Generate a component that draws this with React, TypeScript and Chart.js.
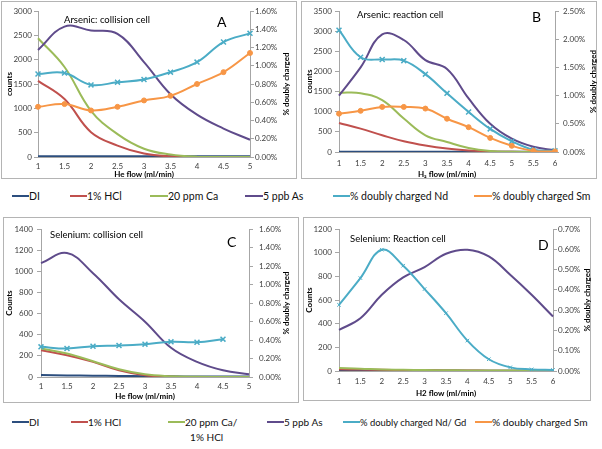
import React, { useEffect, useRef } from 'react';
import { Chart, registerables } from 'chart.js';
Chart.register(...registerables);

const FONT = 'Lato, "Liberation Sans", sans-serif';
const AXIS = '#a6a6a6';
const TICK = '#404040';

const C_DI = '#2C4E7E';
const C_HCL = '#C0504D';
const C_CA = '#9BBB59';
const C_AS = '#5F4B8B';
const C_ND = '#4BACC6';
const C_SM = '#F79646';

// ---------- Panel A: Arsenic collision cell ----------
const flowA = ['1', '1.5', '2', '2.5', '3', '3.5', '4', '4.5', '5'];
const diA = [15, 15, 15, 15, 15, 15, 15, 15, 15];
const hclA = [1565, 1190, 510, 235, 70, 12, 0, 0, 0];
const caA = [2440, 1850, 950, 470, 170, 50, 5, 0, 0];
const asA = [2200, 2680, 2600, 2530, 1950, 1290, 870, 585, 355];
const ndA = [0.91, 0.92, 0.79, 0.82, 0.85, 0.93, 1.04, 1.26, 1.355];
const smA = [0.55, 0.58, 0.51, 0.55, 0.62, 0.67, 0.8, 0.93, 1.14];

// ---------- Panel B: Arsenic reaction cell ----------
const flowB = ['1', '1.5', '2', '2.5', '3', '3.5', '4', '4.5', '5', '5.5', '6'];
const diB = [5, 5, 5, 5, 5, 5, 5, 5, 5, 5, 5];
const hclB = [720, 580, 415, 265, 160, 85, 40, 15, 5, 0, 0];
const caB = [1470, 1460, 1290, 830, 415, 250, 100, 25, 5, 0, 0];
const asB = [1400, 2100, 2920, 2780, 2280, 2060, 1330, 700, 330, 130, 40];
const ndB = [2.16, 1.68, 1.64, 1.62, 1.38, 1.04, 0.71, 0.41, 0.19, 0.04, 0.02];
const smB = [0.68, 0.73, 0.8, 0.8, 0.77, 0.59, 0.44, 0.25, 0.11, 0.02, 0.01];

// ---------- Panel C: Selenium collision cell ----------
const flowC = ['1', '1.5', '2', '2.5', '3', '3.5', '4', '4.5', '5'];
const diC = [18, 15, 12, 10, 8, 6, 5, 5, 5];
const hclC = [253, 206, 143, 63, 16, 3, 0, 0, 0];
const caC = [269, 222, 149, 73, 25, 8, 2, 0, 0];
const asC = [1077, 1172, 982, 735, 523, 276, 143, 63, 25];
const ndC = [0.326, 0.308, 0.333, 0.34, 0.355, 0.38, 0.376, 0.409, null];

// ---------- Panel D: Selenium reaction cell ----------
const flowD = ['1', '1.5', '2', '2.5', '3', '3.5', '4', '4.5', '5', '5.5', '6'];
const diD = [8, 6, 5, 5, 4, 4, 3, 3, 3, 3, 3];
const hclD = [15, 12, 10, 8, 6, 5, 4, 3, 3, 3, 3];
const caD = [25, 20, 12, 10, 8, 6, 5, 5, 5, 5, 5];
const asD = [347, 446, 644, 791, 878, 991, 1025, 968, 813, 644, 460];
const ndD = [0.326, 0.458, 0.598, 0.519, 0.404, 0.285, 0.15, 0.058, 0.018, 0.008, 0.005];

// legend labels
const legendTop = ['DI', '1% HCl', '20 ppm Ca', '5 ppb As', '% doubly charged Nd', '% doubly charged Sm'];
const legendBottom = ['DI', '1% HCl', '20 ppm Ca/\n  1% HCl', '5 ppb As', '% doubly charged Nd/ Gd', '% doubly charged Sm'];
const legendColors = [C_DI, C_HCL, C_CA, C_AS, C_ND, C_SM];

type Series = { label: string; data: (number | null)[]; color: string; axis: 'y' | 'y1'; marker?: 'x' | 'dot' | 'xs' };
type TextItem = { text: string; x: number; y: number; font: string; align?: CanvasTextAlign; rotate?: number };
type PanelCfg = {
  x: number; y: number; w: number; h: number;
  labels: string[];
  series: Series[];
  yMax: number; yStep: number; y1Max: number; y1Step: number;
  leftW: number; rightW: number; padTop: number; bottomH: number;
  leftPad: number; rightPad: number; xPad: number;
  leftTitle: string; leftTitlePad: number; xTitle: string; xTitlePad: number;
  texts: TextItem[];
};

const textPlugin = {
  id: 'panelTexts',
  afterDraw(chart: any, _args: any, opts: any) {
    const ctx = chart.ctx;
    for (const t of opts.items as TextItem[]) {
      ctx.save();
      ctx.font = t.font;
      ctx.fillStyle = '#000';
      ctx.textAlign = t.align || 'left';
      ctx.textBaseline = 'middle';
      ctx.translate(t.x - opts.ox, t.y - opts.oy);
      if (t.rotate) ctx.rotate(t.rotate);
      ctx.fillText(t.text, 0, 0);
      ctx.restore();
    }
  },
};

function buildConfig(c: PanelCfg): any {
  const n = c.series.length;
  const datasets = c.series.map((s, i) => {
    const base: any = {
      label: s.label,
      data: s.data,
      borderColor: s.color,
      backgroundColor: s.color,
      borderWidth: 2,
      yAxisID: s.axis,
      tension: 0.4,
      fill: false,
      order: n - i,
      pointRadius: 0,
    };
    if (s.marker === 'x') {
      base.pointStyle = 'crossRot';
      base.pointRadius = 3.5;
      base.pointBorderWidth = 1.5;
    } else if (s.marker === 'xs') {
      base.pointStyle = 'crossRot';
      base.pointRadius = 2.5;
      base.pointBorderWidth = 1;
    } else if (s.marker === 'dot') {
      base.pointStyle = 'circle';
      base.pointRadius = 2.5;
      base.pointBorderWidth = 1;
    }
    return base;
  });
  const tickFont = { family: FONT, size: 8 };
  const titleFont = { family: FONT, size: 8, weight: 'bold' as const };
  return {
    type: 'line',
    data: { labels: c.labels, datasets },
    plugins: [textPlugin],
    options: {
      animation: false,
      responsive: false,
      maintainAspectRatio: false,
      layout: { padding: { top: c.padTop, left: 0, right: 0, bottom: 0 } },
      plugins: {
        legend: { display: false },
        tooltip: { enabled: false },
        panelTexts: { items: c.texts, ox: c.x, oy: c.y },
      },
      scales: {
        x: {
          type: 'category',
          offset: false,
          grid: { display: false, drawTicks: false },
          border: { display: true, color: AXIS, width: 1 },
          ticks: { padding: c.xPad, font: tickFont, color: TICK, autoSkip: false, maxRotation: 0 },
          title: { display: true, text: c.xTitle, font: titleFont, color: '#000', padding: { top: 0, bottom: c.xTitlePad } },
          afterFit: (s: any) => { s.height = c.bottomH; },
        },
        y: {
          position: 'left',
          min: 0,
          max: c.yMax,
          grid: { drawOnChartArea: false, drawTicks: true, tickLength: 4, color: AXIS },
          border: { display: true, color: AXIS },
          ticks: { stepSize: c.yStep, padding: c.leftPad, font: tickFont, color: TICK, callback: (v: any) => String(Math.round(Number(v))) },
          title: { display: true, text: c.leftTitle, font: titleFont, color: '#000', padding: { top: c.leftTitlePad, bottom: 0 } },
          afterFit: (s: any) => { s.width = c.leftW; },
        },
        y1: {
          position: 'right',
          min: 0,
          max: c.y1Max,
          grid: { drawOnChartArea: false, drawTicks: true, tickLength: 4, color: AXIS },
          border: { display: true, color: AXIS },
          ticks: {
            stepSize: c.y1Step,
            padding: c.rightPad,
            font: tickFont,
            color: TICK,
            callback: (v: any) => Number(v).toFixed(2) + '%',
          },
          afterFit: (s: any) => { s.width = c.rightW; },
        },
      },
    },
  };
}

const ROT = -Math.PI / 2;
const RT = 'bold 8px ' + FONT;
const TT = '9.5px ' + FONT;

const panelA: PanelCfg = {
  x: 1, y: 1, w: 296, h: 178,
  labels: flowA,
  series: [
    { label: 'DI', data: diA, color: C_DI, axis: 'y' },
    { label: '1% HCl', data: hclA, color: C_HCL, axis: 'y' },
    { label: '20 ppm Ca', data: caA, color: C_CA, axis: 'y' },
    { label: '5 ppb As', data: asA, color: C_AS, axis: 'y' },
    { label: '% doubly charged Nd', data: ndA, color: C_ND, axis: 'y1', marker: 'x' },
    { label: '% doubly charged Sm', data: smA, color: C_SM, axis: 'y1', marker: 'dot' },
  ],
  yMax: 3000, yStep: 500, y1Max: 1.6, y1Step: 0.2,
  leftW: 37, rightW: 47, padTop: 10, bottomH: 22,
  leftPad: 2, rightPad: 1, xPad: 5,
  leftTitle: 'counts', leftTitlePad: 4, xTitle: 'He flow (ml/min)', xTitlePad: 0,
  texts: [
    { text: 'Arsenic: collision cell', x: 64, y: 19.5, font: TT },
    { text: 'A', x: 217, y: 22, font: '14px ' + FONT },
    { text: '% doubly charged', x: 286, y: 84, font: RT, align: 'center', rotate: ROT },
  ],
};

const panelB: PanelCfg = {
  x: 301, y: 1, w: 296, h: 178,
  labels: flowB,
  series: [
    { label: 'DI', data: diB, color: C_DI, axis: 'y' },
    { label: '1% HCl', data: hclB, color: C_HCL, axis: 'y' },
    { label: '20 ppm Ca', data: caB, color: C_CA, axis: 'y' },
    { label: '5 ppb As', data: asB, color: C_AS, axis: 'y' },
    { label: '% doubly charged Nd', data: ndB, color: C_ND, axis: 'y1', marker: 'x' },
    { label: '% doubly charged Sm', data: smB, color: C_SM, axis: 'y1', marker: 'dot' },
  ],
  yMax: 3500, yStep: 500, y1Max: 2.5, y1Step: 0.5,
  leftW: 38, rightW: 42, padTop: 10, bottomH: 27,
  leftPad: 3, rightPad: 4, xPad: 7,
  leftTitle: 'counts', leftTitlePad: 4, xTitle: 'H\u2082 flow (ml/min)', xTitlePad: 0,
  texts: [
    { text: 'Arsenic: reaction cell', x: 357, y: 15, font: TT },
    { text: 'B', x: 532, y: 17.5, font: '14px ' + FONT },
    { text: '% doubly charged', x: 593, y: 81.5, font: RT, align: 'center', rotate: ROT },
  ],
};

const panelC: PanelCfg = {
  x: 3, y: 217, w: 296, h: 186,
  labels: flowC,
  series: [
    { label: 'DI', data: diC, color: C_DI, axis: 'y' },
    { label: '1% HCl', data: hclC, color: C_HCL, axis: 'y' },
    { label: '20 ppm Ca/1% HCl', data: caC, color: C_CA, axis: 'y' },
    { label: '5 ppb As', data: asC, color: C_AS, axis: 'y' },
    { label: '% doubly charged Nd/ Gd', data: ndC, color: C_ND, axis: 'y1', marker: 'x' },
  ],
  yMax: 1400, yStep: 200, y1Max: 1.6, y1Step: 0.2,
  leftW: 38, rightW: 50, padTop: 12, bottomH: 26,
  leftPad: 4, rightPad: 6, xPad: 5,
  leftTitle: 'Counts', leftTitlePad: 2, xTitle: 'He flow (ml/min)', xTitlePad: 1.5,
  texts: [
    { text: 'Selenium: collision cell', x: 50, y: 235, font: TT },
    { text: 'C', x: 227, y: 242, font: '14px ' + FONT },
    { text: '% doubly charged', x: 286, y: 303, font: RT, align: 'center', rotate: ROT },
  ],
};

const panelD: PanelCfg = {
  x: 303, y: 217, w: 288, h: 184,
  labels: flowD,
  series: [
    { label: 'DI', data: diD, color: C_DI, axis: 'y' },
    { label: '1% HCl', data: hclD, color: C_HCL, axis: 'y' },
    { label: '20 ppm Ca/1% HCl', data: caD, color: C_CA, axis: 'y' },
    { label: '5 ppb As', data: asD, color: C_AS, axis: 'y' },
    { label: '% doubly charged Nd/ Gd', data: ndD, color: C_ND, axis: 'y1', marker: 'xs' },
  ],
  yMax: 1200, yStep: 200, y1Max: 0.7, y1Step: 0.1,
  leftW: 36, rightW: 38, padTop: 12, bottomH: 30,
  leftPad: 3, rightPad: 1, xPad: 6,
  leftTitle: 'Counts', leftTitlePad: 2, xTitle: 'H2 flow (ml/min)', xTitlePad: 3,
  texts: [
    { text: 'Selenium: Reaction cell', x: 350, y: 238.5, font: TT },
    { text: 'D', x: 538, y: 245, font: '14px ' + FONT },
    { text: '% doubly charged', x: 587, y: 300, font: RT, align: 'center', rotate: ROT },
  ],
};

function Panel({ cfg }: { cfg: PanelCfg }) {
  const ref = useRef<HTMLCanvasElement | null>(null);
  useEffect(() => {
    const chart = new Chart(ref.current as HTMLCanvasElement, buildConfig(cfg));
    return () => chart.destroy();
  }, []);
  return (
    <>
      <div style={{ position: 'absolute', left: cfg.x - 0.5, top: cfg.y - 0.5, width: cfg.w, height: cfg.h, border: '1px solid #b4b4b4', boxSizing: 'border-box' }} />
      <canvas ref={ref} width={cfg.w} height={cfg.h} style={{ position: 'absolute', left: cfg.x, top: cfg.y, width: cfg.w, height: cfg.h }} />
    </>
  );
}

function Legend({ labels, top, lineX, textX, sizes }: { labels: string[]; top: number; lineX: number[]; textX: number[]; sizes: number[] }) {
  return (
    <>
      {labels.map((l, i) => (
        <React.Fragment key={i}>
          <div style={{ position: 'absolute', left: lineX[i], top: top - 1, width: textX[i] - lineX[i], height: 2, background: legendColors[i] }} />
          <div style={{ position: 'absolute', left: textX[i], top: top - 7, fontFamily: FONT, fontSize: sizes[i], lineHeight: '15px', color: '#111', whiteSpace: 'pre' }}>{l}</div>
        </React.Fragment>
      ))}
    </>
  );
}

export default function App() {
  return (
    <div style={{ position: 'absolute', left: 0, top: 0, width: 602, height: 449, background: '#fff', overflow: 'hidden' }}>
      <Panel cfg={panelA} />
      <Panel cfg={panelB} />
      <Panel cfg={panelC} />
      <Panel cfg={panelD} />
      <Legend labels={legendTop} top={196} lineX={[12, 70, 150, 245, 333, 474]} textX={[29, 87, 168, 263, 350, 492]} sizes={[10.5, 10.5, 10.5, 10.5, 10.5, 10.5]} />
      <Legend labels={legendBottom} top={422} lineX={[12, 71, 168, 267, 343, 475]} textX={[29, 88, 185, 284, 360, 492]} sizes={[10, 10, 10, 10, 9.4, 10.2]} />
    </div>
  );
}
